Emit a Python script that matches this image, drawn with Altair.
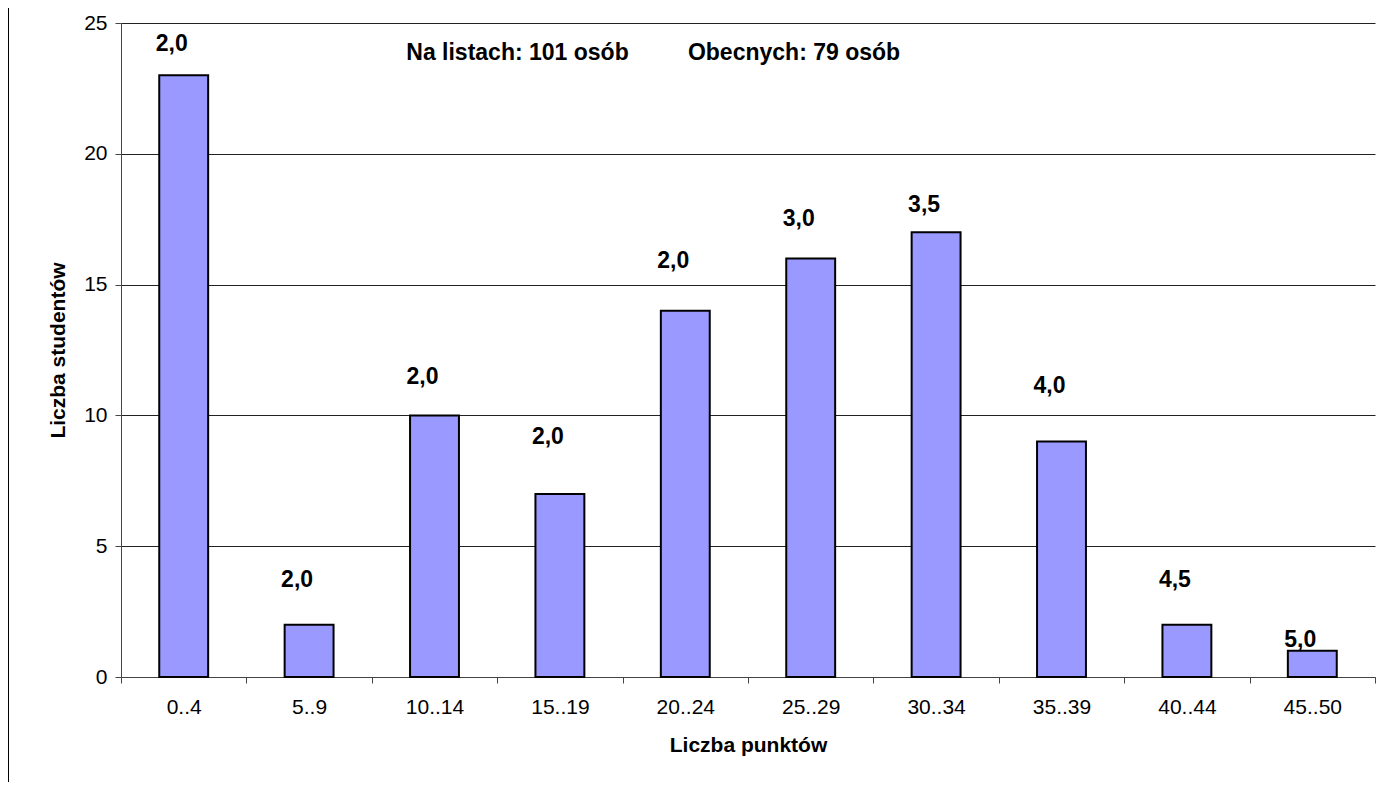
import altair as alt
import pandas as pd

categories = ["0..4", "5..9", "10..14", "15..19", "20..24", "25..29", "30..34", "35..39", "40..44", "45..50"]
counts = [23, 2, 10, 7, 14, 16, 17, 9, 2, 1]
grade_labels = ["2,0", "2,0", "2,0", "2,0", "2,0", "3,0", "3,5", "4,0", "4,5", "5,0"]
label_heights = [24.2, 3.71, 11.47, 9.17, 15.9, 17.51, 18.04, 11.12, 3.71, 1.41]
y_ticks = [0, 5, 10, 15, 20, 25]
note_left = ["Na listach: 101 osób"]
note_right = ["Obecnych: 79 osób"]

FONT = "Liberation Sans, Arial, sans-serif"

df = pd.DataFrame({"kat": categories, "n": counts, "ocena": grade_labels, "poz": label_heights})

x_enc = alt.X(
    "kat:N",
    sort=categories,
    title="Liczba punktów",
    scale=alt.Scale(paddingInner=0, paddingOuter=0),
    axis=alt.Axis(
        labelAngle=0,
        tickBand="extent",
        grid=False,
        labelBaseline="middle",
        labelPadding=24,
        titleX=627,
        titleY=68,
        titleBaseline="middle",
        titleAlign="center",
    ),
)
y_title = "Liczba studentów"
y_axis = alt.Axis(
    values=y_ticks,
    grid=True,
    gridColor="#222222",
    gridWidth=1,
    labelPadding=8,
    titleX=-63,
    titleY=327,
    titleAngle=-90,
    titleAlign="center",
    titleBaseline="middle",
)
y_scale = alt.Scale(domain=[0, 25], nice=False)

bars = alt.Chart(df).mark_bar(
    color="#9999FF", stroke="#000000", strokeWidth=2, width=alt.RelativeBandSize(0.39)
).encode(
    x=x_enc,
    y=alt.Y("n:Q", scale=y_scale, axis=y_axis, title=y_title),
)

labels = alt.Chart(df).mark_text(
    font=FONT, fontSize=23, fontWeight="bold", dx=-12, baseline="middle", color="black"
).encode(
    x=alt.X("kat:N", sort=categories, title="Liczba punktów"),
    y=alt.Y("poz:Q", title=y_title),
    text="ocena:N",
)

border = alt.Chart(pd.DataFrame({"a": [0]})).mark_rule(color="black", strokeWidth=1).encode(
    x=alt.value(-112.5), y=alt.value(-15), y2=alt.value(760)
)

note1 = alt.Chart(pd.DataFrame({"t": note_left})).mark_text(
    font=FONT, fontSize=23, fontWeight="bold", baseline="middle", align="center", color="black"
).encode(x=alt.value(396.5), y=alt.value(30), text="t:N")

note2 = alt.Chart(pd.DataFrame({"t": note_right})).mark_text(
    font=FONT, fontSize=23, fontWeight="bold", baseline="middle", align="center", color="black"
).encode(x=alt.value(673), y=alt.value(30), text="t:N")

chart = (
    alt.layer(border, bars, labels, note1, note2)
    .properties(
        width=1254,
        height=654,
        padding={"left": 113, "top": 15, "right": 13, "bottom": 105},
        autosize=alt.AutoSizeParams(type="none"),
        background="white",
    )
    .configure_view(stroke=None)
    .configure_axis(
        labelFont=FONT,
        labelFontSize=21,
        labelColor="black",
        titleFont=FONT,
        titleFontSize=21,
        titleFontWeight="bold",
        titleColor="black",
        domainColor="#444444",
        domainWidth=1,
        tickColor="#444444",
        tickSize=6,
        tickWidth=1,
    )
)

chart.save("out.html", embed_options={"renderer": "svg", "actions": False})
